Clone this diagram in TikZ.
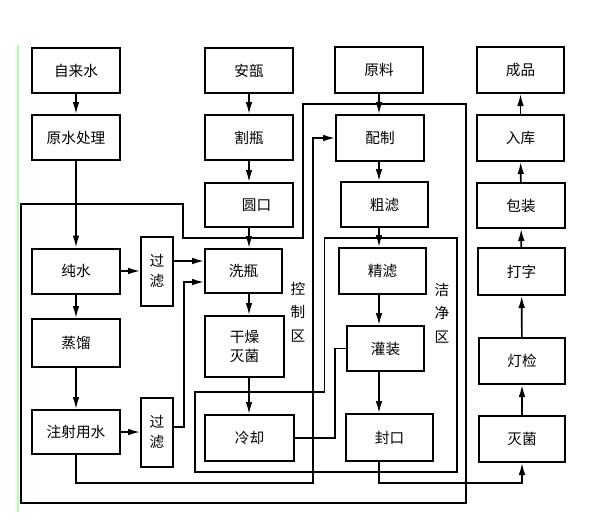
\documentclass[tikz,border=0pt]{standalone}
\usepackage{fontspec}
\setmainfont{Noto Sans CJK SC}
\usepackage{tikz}
\usetikzlibrary{arrows.meta, positioning, calc}
\tikzset{
    procbox/.style={
        rectangle,
        draw=black,
        line width=1.7pt,
        minimum width=2.64cm,
        minimum height=1.35cm,
        fill=white,
        inner sep=1pt,
        align=center,
        font=\fontsize{12.5}{17}\selectfont
    },
    filterbox/.style={
        procbox,
        minimum width=0.96cm,
        minimum height=2.07cm
    },
    zonelabel/.style={
        align=center,
        inner sep=0pt,
        font=\fontsize{12.5}{20}\selectfont
    },
    flow/.style={
        draw=black,
        line width=1.4pt,
        -{Latex[length=3.6mm,width=2mm]}
    },
    pipe/.style={
        draw=black,
        line width=1.4pt
    }
}

\begin{document}
\begin{tikzpicture}[x=0.03cm, y=-0.03cm]
\useasboundingbox (0,0) rectangle (592,521);

% scan edge
\draw[green!30, line width=1pt] (18,45) -- (18,512);

% water line
\node[procbox] (tap) at (76,70.5) {自来水};
\node[procbox] (rawtreat) at (76,137.5) {原水处理};
\node[procbox] (purew) at (76,271) {纯水};
\node[procbox, minimum height=1.44cm] (distil) at (76,343) {蒸馏};
\node[procbox, minimum height=1.32cm] (injw) at (76,432) {注射用水};
\node[filterbox] (filt1) at (157,271) {过\\滤};
\node[filterbox] (filt2) at (157,432) {过\\滤};

% ampoule line
\node[procbox] (ampoule) at (249,70.5) {安瓿};
\node[procbox] (cut) at (249,137.5) {割瓶};
\node[procbox, minimum height=1.32cm] (round) at (249,205) {\hspace{0.45cm}圆口};
\node[procbox, minimum width=2.31cm, minimum height=1.32cm] (wash) at (243.5,271) {洗瓶};
\node[procbox, minimum width=2.37cm, minimum height=1.83cm] (dry) at (244.5,346.5) {干燥\\灭菌};
\node[procbox, minimum width=2.67cm, minimum height=1.38cm] (cool) at (249.5,438) {\raisebox{-0.25cm}{冷却}};

% liquid line
\node[procbox, minimum height=1.38cm] (material) at (379,70) {原料};
\node[procbox, minimum height=1.38cm] (mix) at (380,138) {配制};
\node[procbox, minimum width=2.61cm] (coarse) at (384.5,204.5) {粗滤};
\node[procbox, minimum width=2.61cm, minimum height=1.38cm] (fine) at (382.5,271) {精滤};
\node[procbox, minimum width=2.31cm] (filling) at (385.5,348.5) {灌装};
\node[procbox, minimum width=2.61cm, minimum height=1.41cm] (seal) at (389.5,437.5) {\raisebox{-0.2cm}{封口}};

% finishing line
\node[procbox, minimum width=2.61cm, minimum height=1.38cm] (product) at (520.5,70) {成品};
\node[procbox, minimum width=2.61cm, minimum height=1.38cm] (store) at (520.5,138) {入库};
\node[procbox] (pack) at (521,205.5) {包装};
\node[procbox, minimum width=2.61cm, minimum height=1.41cm] (printing) at (521.5,271.5) {打字};
\node[procbox, minimum width=2.58cm, minimum height=1.38cm] (inspect) at (522,361) {灯检};
\node[procbox, minimum width=2.58cm, minimum height=1.38cm] (steril) at (522,439) {\raisebox{-0.12cm}{灭菌}};

% zones
\draw[pipe] (21,204) -- (183,204) -- (183,238) -- (303,238) -- (303,104)
    -- (466,104) -- (466,503) -- (21,503) -- cycle;
\draw[pipe] (324.5,238) -- (457,238) -- (457,472) -- (195,472) -- (195,392)
    -- (324.5,392) -- cycle;
\node[zonelabel] (ctrl) at (298,312) {控\\制\\区};
\node[zonelabel] (clean) at (442,313) {洁\\净\\区};

% flows
\foreach \a/\b in {tap/rawtreat, rawtreat/purew, purew/distil, distil/injw}
    \draw[flow] (\a) -- (\b);
\foreach \a/\b in {ampoule/cut, cut/round, round/wash, wash/dry, dry/cool}
    \draw[flow] (\a.south -| ampoule) -- (\b.north -| ampoule);
\foreach \a/\b in {material/mix, mix/coarse, coarse/fine, fine/filling, filling/seal}
    \draw[flow] (\a.south -| material) -- (\b.north -| material);
\foreach \a/\b in {steril/inspect, inspect/printing, printing/pack, pack/store, store/product}
    \draw[flow] (\a) -- (\b);

\draw[flow] (purew) -- (filt1);
\draw[flow] (injw) -- (filt2);
\draw[flow] ($(filt1.east)+(0,-10)$) -- ($(wash.west)+(0,-10)$);
\draw[flow] ($(filt2.east)+(0,-5)$) -- ++(10,0) |- ($(wash.west)+(0,11)$);
\draw[flow] (injw.south) -- ++(0,28) -| ([xshift=-0.66cm]mix.west) -- (mix.west);
\draw[pipe] (cool.east) -| ([xshift=-0.33cm]filling.west) -- (filling.west);
\draw[flow] (material |- seal.south) -- ++(0,21) -| (steril.south);

\end{tikzpicture}
\end{document}
